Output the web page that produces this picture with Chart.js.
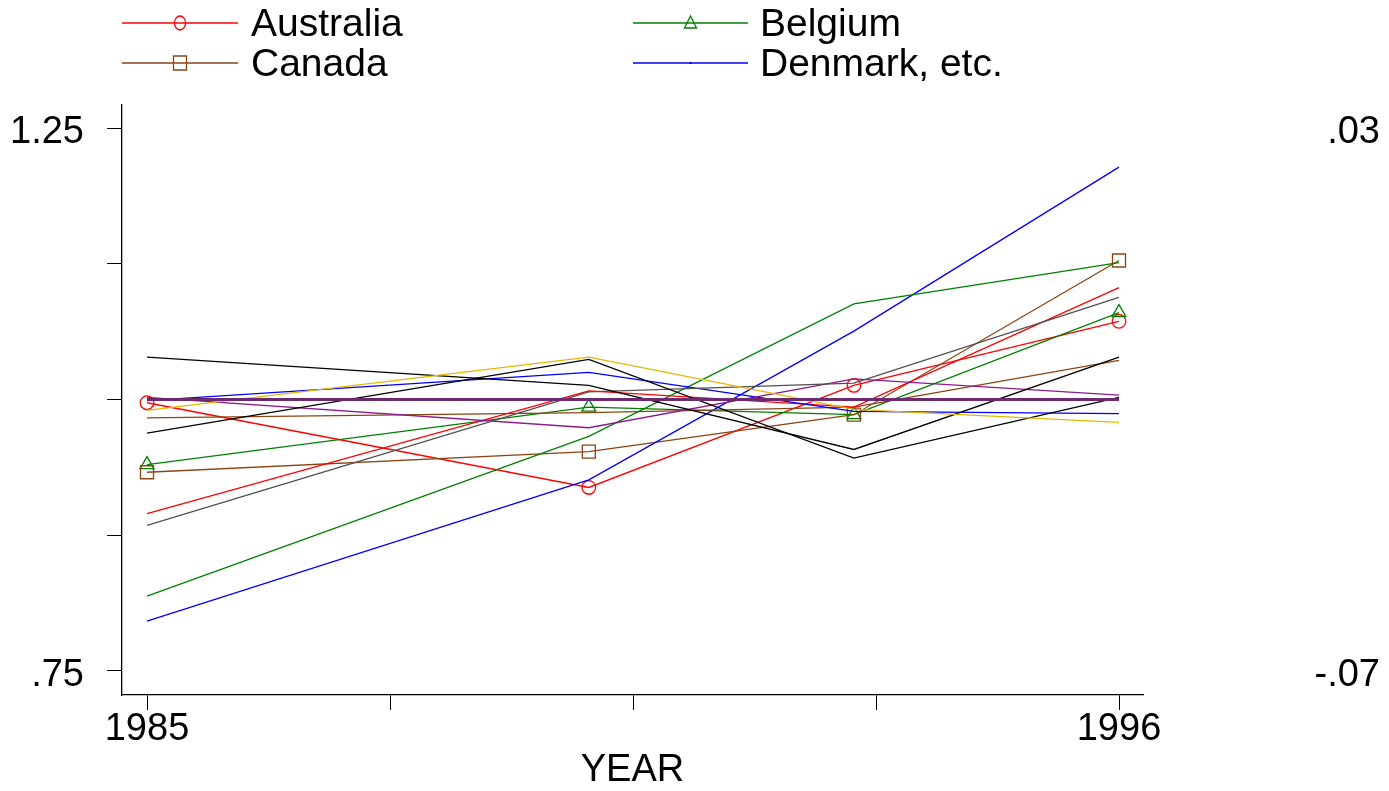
<!DOCTYPE html>
<html>
<head>
<meta charset="utf-8">
<script src="https://cdn.jsdelivr.net/npm/chart.js@4/dist/chart.umd.min.js"></script>
<style>
  html, body { margin: 0; padding: 0; background: #fff; }
  #wrap { width: 1389px; height: 791px; position: relative; }
</style>
</head>
<body>
<div id="wrap"><canvas id="c" width="1389" height="791"></canvas></div>
<script>
// ---- data ----
const years = [1985, 1990, 1993, 1996];
const australia = [0.997, 0.919, 1.013, 1.072];
const belgium   = [0.940, 0.993, 0.986, 1.080];
const canada    = [0.933, 0.952, 0.986, 1.128];
const denmark   = [0.796, 0.926, 1.063, 1.214];
const blue2     = [0.999, 1.025, 0.989, 0.987];
const red2      = [0.895, 1.008, 0.993, 1.103];
const green2    = [0.819, 0.966, 1.088, 1.126];
const brown2    = [0.983, 0.988, 0.993, 1.036];
const blackA    = [1.039, 1.013, 0.954, 1.039];
const blackB    = [0.969, 1.037, 0.946, 1.002];
const gray1     = [0.884, 1.007, 1.015, 1.094];
const yellow1   = [0.990, 1.039, 0.991, 0.979];
const purple1   = [1.002, 0.974, 1.019, 1.004];
const baseline  = [1.000, 1.000, 1.000, 1.000];

const legendLabels = ['Australia', 'Belgium', 'Canada', 'Denmark, etc.'];
const xTickValues = [1985, 1987.75, 1990.5, 1993.25, 1996];
const xTickLabels = ['1985', '', '', '', '1996'];
const yTickValues = [1.25, 1.125, 1.0, 0.875, 0.75];
const yTickLabels = ['1.25', '', '', '', '.75'];
const y2TickValues = [0.03, -0.07];
const y2TickLabels = ['.03', '-.07'];

// ---- build ----
const FONT = '"Liberation Sans", Arial, Helvetica, sans-serif';
function pts(arr) { return years.map((y, i) => ({ x: y, y: arr[i] })); }
function ds(label, arr, color, extra) {
  return Object.assign({
    label: label, data: pts(arr), borderColor: color, backgroundColor: color,
    borderWidth: 1.3, pointRadius: 0, pointHoverRadius: 0, showLine: true,
    tension: 0, fill: false
  }, extra || {});
}
const RED = '#ff0000', GREEN = '#008000', BROWN = '#8b4513', BLUE = '#0000ff';
const markerCommon = { pointBackgroundColor: 'rgba(0,0,0,0)', pointBorderWidth: 1.3 };
const datasets = [
  ds('', baseline, '#6e2a6e', { borderWidth: 3 }),
  ds('', yellow1, '#e6b800'),
  ds('', blackA, '#000000'),
  ds('', blackB, '#000000'),
  ds('', gray1, '#505050'),
  ds('', purple1, '#8b1a8b'),
  ds('', blue2, BLUE),
  ds('', red2, RED),
  ds('', green2, GREEN),
  ds('', brown2, BROWN),
  ds(legendLabels[3], denmark, BLUE),
  ds(legendLabels[2], canada, BROWN, Object.assign({ pointStyle: 'rect', pointRadius: 9.2, pointBorderColor: BROWN }, markerCommon)),
  ds(legendLabels[1], belgium, GREEN, Object.assign({ pointStyle: 'triangle', pointRadius: 8, pointBorderColor: GREEN }, markerCommon)),
  ds(legendLabels[0], australia, RED, Object.assign({ pointStyle: 'circle', pointRadius: 6.8, pointBorderColor: RED }, markerCommon))
];

const legendPlugin = {
  id: 'stataLegend',
  afterDraw(chart) {
    const ctx = chart.ctx;
    const items = [
      { label: legendLabels[0], color: RED, marker: 'circle', x0: 122, x1: 238, tx: 251, y: 23 },
      { label: legendLabels[1], color: GREEN, marker: 'triangle', x0: 633, x1: 748, tx: 760, y: 23 },
      { label: legendLabels[2], color: BROWN, marker: 'rect', x0: 122, x1: 238, tx: 251, y: 63 },
      { label: legendLabels[3], color: BLUE, marker: 'dot', x0: 633, x1: 748, tx: 760, y: 63 }
    ];
    ctx.save();
    items.forEach(it => {
      ctx.strokeStyle = it.color; ctx.lineWidth = 1.3;
      ctx.beginPath(); ctx.moveTo(it.x0, it.y); ctx.lineTo(it.x1, it.y); ctx.stroke();
      const cx = (it.x0 + it.x1) / 2;
      ctx.beginPath();
      if (it.marker === 'circle') { ctx.ellipse(cx, it.y, 5.5, 7, 0, 0, Math.PI * 2); ctx.stroke(); }
      else if (it.marker === 'triangle') { ctx.moveTo(cx, it.y - 7); ctx.lineTo(cx + 6, it.y + 5); ctx.lineTo(cx - 6, it.y + 5); ctx.closePath(); ctx.stroke(); }
      else if (it.marker === 'rect') { ctx.rect(cx - 6.5, it.y - 7, 13, 14); ctx.stroke(); }
      else { ctx.fillStyle = it.color; ctx.fillRect(cx - 1, it.y - 1, 2, 2); }
      ctx.fillStyle = '#000';
      ctx.font = '39px ' + FONT;
      ctx.textAlign = 'left'; ctx.textBaseline = 'middle';
      ctx.fillText(it.label, it.tx, it.y + 2);
    });
    ctx.restore();
  }
};

function setTicks(vals) { return function (scale) { scale.ticks = vals.map(v => ({ value: v })); }; }

new Chart(document.getElementById('c'), {
  type: 'scatter',
  data: { datasets: datasets },
  plugins: [legendPlugin],
  options: {
    responsive: false,
    animation: false,
    events: [],
    layout: { padding: { top: 105, right: 9, bottom: 0, left: 0 } },
    plugins: { legend: { display: false }, tooltip: { enabled: false } },
    scales: {
      x: {
        type: 'linear', position: 'bottom',
        min: 1984.717, max: 1996.2716,
        afterBuildTicks: setTicks(xTickValues),
        afterFit: s => { s.height = 96; },
        grid: { display: true, drawOnChartArea: false, drawTicks: true, tickLength: 15, color: '#000', lineWidth: 1 },
        border: { display: true, color: '#000', width: 1.3 },
        ticks: {
          autoSkip: false, maxRotation: 0, padding: 1, color: '#000',
          font: { family: FONT, size: 38, lineHeight: 1 },
          callback: (v) => { const i = xTickValues.indexOf(v); return i >= 0 ? xTickLabels[i] : ''; }
        },
        title: { display: true, text: 'YEAR', color: '#000', font: { family: FONT, size: 38, lineHeight: 1 }, padding: { top: 0, bottom: 1 } }
      },
      y: {
        type: 'linear', position: 'left',
        min: 0.72790, max: 1.27118,
        afterBuildTicks: setTicks(yTickValues),
        afterFit: s => { s.width = 122; },
        grid: { display: true, drawOnChartArea: false, drawTicks: true, tickLength: 15, color: '#000', lineWidth: 1 },
        border: { display: true, color: '#000', width: 1.3 },
        ticks: {
          autoSkip: false, padding: 23, color: '#000', labelOffset: 5,
          font: { family: FONT, size: 38, lineHeight: 1 },
          callback: (v) => { const i = yTickValues.findIndex(t => Math.abs(t - v) < 1e-9); return i >= 0 ? yTickLabels[i] : ''; }
        }
      },
      y2: {
        type: 'linear', position: 'right',
        min: -0.07442, max: 0.034236,
        afterBuildTicks: setTicks(y2TickValues),
        afterFit: s => { s.width = 237; },
        grid: { display: false, drawTicks: false },
        border: { display: false },
        ticks: {
          autoSkip: false, padding: 0, color: '#000', crossAlign: 'far', labelOffset: 5,
          font: { family: FONT, size: 38, lineHeight: 1 },
          callback: (v) => { const i = y2TickValues.findIndex(t => Math.abs(t - v) < 1e-9); return i >= 0 ? y2TickLabels[i] : ''; }
        }
      }
    }
  }
});
</script>
</body>
</html>
